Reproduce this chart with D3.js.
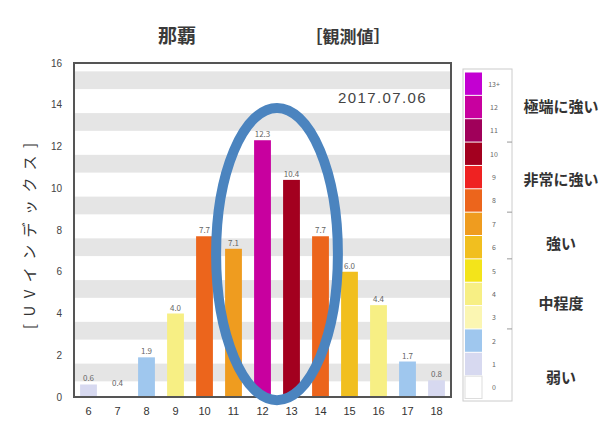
<!DOCTYPE html>
<html>
<head>
<meta charset="utf-8">
<script src="https://cdn.jsdelivr.net/npm/d3@7"></script>
<style>
  html, body { margin: 0; padding: 0; background: #fff; }
  svg { display: block; font-family: "Noto Sans CJK JP", "Noto Sans", sans-serif; }
</style>
</head>
<body>
<svg id="chart" width="610" height="423"></svg>
<script>
// Hourly UV index, Naha, 2017-07-06 (observed)
const hours = [6, 7, 8, 9, 10, 11, 12, 13, 14, 15, 16, 17, 18];
const uvValues = [0.6, 0.4, 1.9, 4.0, 7.7, 7.1, 12.3, 10.4, 7.7, 6.0, 4.4, 1.7, 0.8];
const yTicks = [0, 2, 4, 6, 8, 10, 12, 14, 16];

// Colour per UV level 0 .. 13+
const levels = [0, 1, 2, 3, 4, 5, 6, 7, 8, 9, 10, 11, 12, 13];
const levelLabels = ["0", "1", "2", "3", "4", "5", "6", "7", "8", "9", "10", "11", "12", "13+"];
const levelColors = ["#ffffff", "#d7d9f0", "#9fc7ee", "#fbf6b2", "#f7ef84", "#f3e41a",
                     "#f1bf1f", "#ef9c1f", "#ec651c", "#ef2222", "#a3001f", "#a0005a",
                     "#c8009f", "#c300d2"];

// Category bands of the scale: [lowest level, highest level, name]
const categories = [
  [11, 13, "極端に強い"],
  [8, 10, "非常に強い"],
  [6, 7, "強い"],
  [3, 5, "中程度"],
  [0, 2, "弱い"]
];

const titleText = "那覇";
const subtitleText = "［観測値］";
const dateText = "2017.07.06";
const yTitle = "[UVインデックス]";

const svg = d3.select("#chart");
const margin = { left: 74, right: 159, top: 63, bottom: 26 };
const W = 610, H = 423;
const plotL = margin.left, plotR = W - margin.right, plotT = margin.top, plotB = H - margin.bottom;

const x = d3.scaleBand().domain(hours).range([plotL, plotR]).paddingInner(0.42).paddingOuter(0.21);
const y = d3.scaleLinear().domain([0, 16]).range([plotB, plotT]);

const levelOf = v => Math.min(13, Math.round(v));

// Alternating grey bands between the labelled ticks
const bandCentres = d3.range(1, 16, 2);
svg.append("g").selectAll("rect").data(bandCentres).join("rect")
  .attr("x", plotL)
  .attr("width", plotR - plotL)
  .attr("y", d => y(d + 0.6))
  .attr("height", d => y(d - 0.25) - y(d + 0.6))
  .attr("fill", "#e5e5e5");

// Bars
svg.append("g").selectAll("rect").data(hours).join("rect")
  .attr("x", d => x(d))
  .attr("width", x.bandwidth())
  .attr("y", (d, i) => y(uvValues[i]))
  .attr("height", (d, i) => y(0) - y(uvValues[i]))
  .attr("fill", (d, i) => levelColors[levelOf(uvValues[i])]);

// Value labels
svg.append("g").selectAll("text").data(hours).join("text")
  .attr("x", d => x(d) + x.bandwidth() / 2)
  .attr("y", (d, i) => y(uvValues[i]) - 3)
  .attr("text-anchor", "middle")
  .attr("font-size", 8)
  .attr("fill", "#666")
  .text((d, i) => uvValues[i].toFixed(1));

// Plot frame
svg.append("rect")
  .attr("x", plotL).attr("y", plotT)
  .attr("width", plotR - plotL).attr("height", plotB - plotT)
  .attr("fill", "none").attr("stroke", "#555").attr("stroke-width", 2);

// Axes
const yAxis = svg.append("g").attr("transform", `translate(${plotL},0)`)
  .call(d3.axisLeft(y).tickValues(yTicks).tickSize(0).tickPadding(12));
yAxis.select(".domain").remove();
yAxis.selectAll("text").attr("font-size", 10).attr("fill", "#444")
  .style("font-family", "'Liberation Sans', sans-serif");

const xAxis = svg.append("g").attr("transform", `translate(0,${plotB})`)
  .call(d3.axisBottom(x).tickSize(0).tickPadding(10));
xAxis.select(".domain").remove();
xAxis.selectAll("text").attr("font-size", 11).attr("fill", "#333")
  .style("font-family", "'Liberation Sans', sans-serif");

// Titles
svg.append("text").attr("x", 177).attr("y", 43).attr("text-anchor", "middle")
  .attr("font-size", 19).attr("font-weight", "bold").attr("fill", "#3a3a3a").text(titleText);
svg.append("text").attr("x", 348).attr("y", 43).attr("text-anchor", "middle")
  .attr("font-size", 17).attr("font-weight", "bold").attr("fill", "#3a3a3a").text(subtitleText);
svg.append("text").attr("x", plotR - 24).attr("y", 103).attr("text-anchor", "end")
  .attr("font-size", 15).attr("fill", "#444").attr("letter-spacing", 1.4)
  .style("font-family", "'Liberation Sans', sans-serif").text(dateText);

svg.append("text")
  .attr("transform", `translate(35,${(plotT + plotB) / 2 + 6}) rotate(-90)`)
  .attr("text-anchor", "middle")
  .attr("font-size", 15).attr("fill", "#333")
  .attr("textLength", 186).attr("lengthAdjust", "spacing")
  .text(yTitle);

// Highlight ring around the midday peak
const ringCx = (x(12) + x(13) + x.bandwidth()) / 2;
const ringTop = y(13.85), ringBottom = y(-0.15);
svg.append("ellipse")
  .attr("cx", ringCx)
  .attr("cy", (ringTop + ringBottom) / 2)
  .attr("rx", x.step() * 2.1)
  .attr("ry", (ringBottom - ringTop) / 2)
  .attr("fill", "none")
  .attr("stroke", "#4b84bf")
  .attr("stroke-width", 10);

// Colour legend
const legTop = 72, legBottom = 399, legX = 465, boxW = 17;
const ly = d3.scaleBand().domain(levels.slice().reverse()).range([legTop, legBottom]);
const leg = svg.append("g");
leg.append("rect")
  .attr("x", legX - 2).attr("y", legTop - 3)
  .attr("width", 49).attr("height", legBottom - legTop + 5)
  .attr("fill", "none").attr("stroke", "#ccc").attr("stroke-width", 1);
leg.selectAll(".cell").data(levels).join("rect")
  .attr("class", "cell")
  .attr("x", legX).attr("width", boxW)
  .attr("y", d => ly(d) + 0.5)
  .attr("height", ly.bandwidth() - 1)
  .attr("fill", d => levelColors[d])
  .attr("stroke", d => d === 0 ? "#ddd" : "none");
leg.selectAll(".num").data(levels).join("text")
  .attr("class", "num")
  .attr("x", legX + 29).attr("y", d => ly(d) + ly.bandwidth() / 2 + 3)
  .attr("text-anchor", "middle").attr("font-size", 7).attr("fill", "#666")
  .text(d => levelLabels[d]);
// boundary ticks between categories
leg.selectAll(".bt").data(categories.slice(0, -1)).join("line")
  .attr("class", "bt")
  .attr("x1", legX + 42).attr("x2", legX + 47)
  .attr("y1", d => ly(d[0]) + ly.bandwidth())
  .attr("y2", d => ly(d[0]) + ly.bandwidth())
  .attr("stroke", "#999");

const labelOffsets = [0, 3, 8, 10, 14];
leg.selectAll(".cat").data(categories).join("text")
  .attr("class", "cat")
  .attr("x", 561)
  .attr("y", (d, i) => (ly(d[1]) + ly(d[0]) + ly.bandwidth()) / 2 + labelOffsets[i] + 5)
  .attr("text-anchor", "middle")
  .attr("font-size", 15).attr("font-weight", "bold").attr("fill", "#333")
  .text(d => d[2]);
</script>
</body>
</html>
